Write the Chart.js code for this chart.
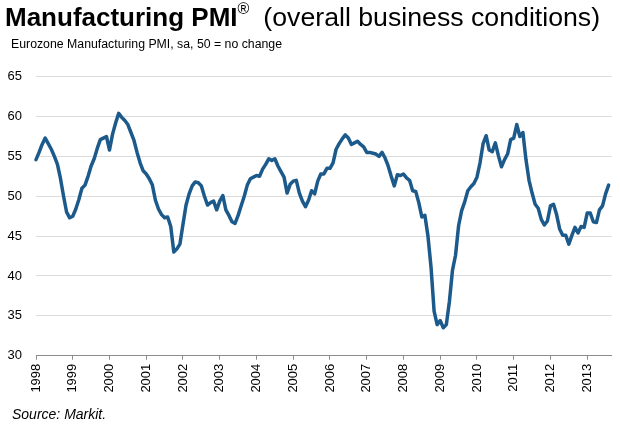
<!DOCTYPE html>
<html>
<head>
<meta charset="utf-8">
<script src="https://cdn.jsdelivr.net/npm/chart.js"></script>
<style>
  html, body { margin: 0; padding: 0; background: #fff; }
  body { width: 620px; height: 429px; position: relative; overflow: hidden; font-family: 'Liberation Sans', Arial, sans-serif; color: #000; }
  #wrap { position: absolute; left: 0; top: 0; width: 620px; height: 429px; }
  .txt { position: absolute; white-space: nowrap; }
  #title { left: 5px; top: 4px; font-size: 26px; line-height: 26px; }
  #title .reg { font-size: 16px; position: relative; top: -12px; margin-right: 14px; }
  #title .rest { font-size: 26.7px; }
  #subtitle { left: 11px; top: 38px; font-size: 12.3px; line-height: 12.5px; }
  #source { left: 12px; top: 407px; font-size: 14px; line-height: 14px; font-style: italic; }
</style>
</head>
<body>
<div id="wrap"><canvas id="pmi"></canvas></div>
<div id="title" class="txt"><b>Manufacturing PMI</b><span class="reg">®</span><span class="rest">(overall business conditions)</span></div>
<div id="subtitle" class="txt">Eurozone Manufacturing PMI, sa, 50 = no change</div>
<div id="source" class="txt">Source: Markit.</div>
<script>
// monthly readings, Jan 1998 .. Aug 2013
const pmi = [
  54.6, 55.5, 56.5, 57.3, 56.6, 55.9, 55.0, 54.0, 52.2, 50.0, 48.0, 47.3, // 1998
  47.5, 48.4, 49.6, 51.0, 51.4, 52.5, 53.8, 54.7, 56.0, 57.1, 57.3, 57.5, // 1999
  55.8, 57.8, 59.2, 60.4, 59.9, 59.5, 59.0, 58.0, 57.0, 55.5, 54.2, 53.2, // 2000
  52.8, 52.2, 51.4, 49.5, 48.4, 47.7, 47.3, 47.4, 46.2, 43.0, 43.4, 44.0, // 2001
  46.5, 48.9, 50.3, 51.3, 51.8, 51.7, 51.3, 50.0, 48.9, 49.2, 49.4, 48.3, // 2002
  49.4, 50.1, 48.3, 47.6, 46.8, 46.6, 47.6, 48.8, 50.0, 51.4, 52.2, 52.4, // 2003
  52.6, 52.5, 53.4, 54.0, 54.7, 54.5, 54.7, 53.8, 53.1, 52.4, 50.4, 51.5, // 2004
  51.9, 52.0, 50.4, 49.4, 48.7, 49.5, 50.7, 50.3, 51.9, 52.8, 52.8, 53.5, // 2005
  53.5, 54.2, 55.9, 56.6, 57.2, 57.7, 57.3, 56.5, 56.7, 56.9, 56.5, 56.2, // 2006
  55.5, 55.5, 55.4, 55.3, 55.0, 55.5, 54.8, 53.8, 52.5, 51.3, 52.7, 52.6, // 2007
  52.8, 52.3, 52.0, 50.7, 50.6, 49.2, 47.4, 47.6, 45.0, 41.1, 35.6, 33.9, // 2008
  34.4, 33.5, 33.9, 36.8, 40.7, 42.6, 46.3, 48.2, 49.3, 50.7, 51.2, 51.6, // 2009
  52.4, 54.2, 56.6, 57.6, 55.8, 55.6, 56.7, 55.1, 53.7, 54.6, 55.3, 57.1, // 2010
  57.3, 59.0, 57.5, 58.0, 54.6, 52.0, 50.4, 49.0, 48.5, 47.1, 46.4, 46.9, // 2011
  48.8, 49.0, 47.7, 45.9, 45.1, 45.1, 44.0, 45.1, 46.1, 45.4, 46.2, 46.1, // 2012
  47.9, 47.9, 46.8, 46.7, 48.3, 48.8, 50.3, 51.4                          // 2013
];
const years = ['1998', '1999', '2000', '2001', '2002', '2003', '2004', '2005',
               '2006', '2007', '2008', '2009', '2010', '2011', '2012', '2013'];
const yTicks = [30, 35, 40, 45, 50, 55, 60, 65];

const points = pmi.map((v, i) => ({x: i, y: v}));

const ctx = document.getElementById('pmi').getContext('2d');
const chart = new Chart(ctx, {
    type: 'line',
    data: {
        datasets: [{
            data: points,
            borderColor: '#1b5a8b',
            borderWidth: 3.5,
            borderJoinStyle: 'round',
            borderCapStyle: 'round',
            pointRadius: 0,
            tension: 0,
            clip: false
        }]
    },
    options: {
        responsive: true,
        maintainAspectRatio: false,
        animation: false,
        layout: {padding: {top: 76.7, right: 8.3, bottom: 29.3, left: 0}},
        plugins: {
            legend: {display: false},
            tooltip: {enabled: false}
        },
        scales: {
            x: {
                type: 'linear',
                min: 0,
                max: 188,
                afterBuildTicks: (s) => {
                    s.ticks = years.map((y, i) => ({value: i * 12}));
                },
                afterFit: (s) => { s.height = 44; },
                border: {display: true, color: '#8c8c8c', width: 1},
                grid: {drawOnChartArea: false, drawTicks: true, tickLength: 4, color: '#8c8c8c'},
                ticks: {
                    autoSkip: false,
                    minRotation: 90,
                    maxRotation: 90,
                    padding: 4,
                    color: '#000',
                    font: {family: "'Liberation Sans', Arial", size: 13},
                    callback: (v) => years[v / 12]
                }
            },
            y: {
                min: 30,
                max: 65,
                afterBuildTicks: (s) => {
                    s.ticks = yTicks.map(v => ({value: v}));
                },
                afterFit: (s) => { s.width = 36; },
                border: {display: false},
                grid: {color: '#dcdcdc', lineWidth: 1, drawTicks: false},
                ticks: {
                    padding: 14,
                    color: '#000',
                    font: {family: "'Liberation Sans', Arial", size: 13}
                }
            }
        }
    }
});
</script>
</body>
</html>
